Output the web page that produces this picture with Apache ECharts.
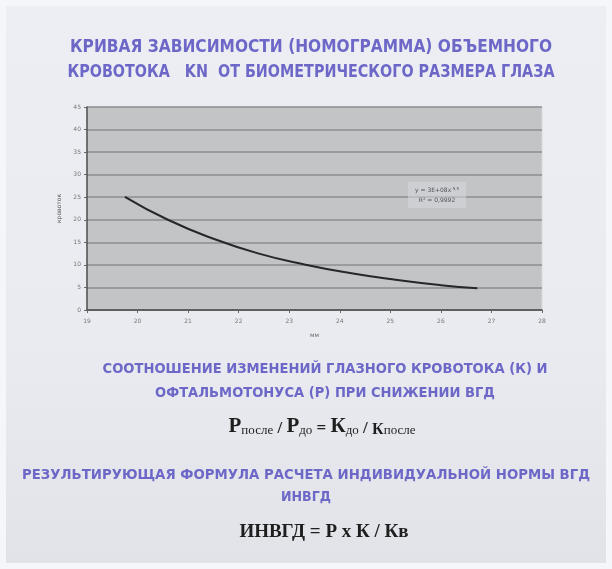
<!DOCTYPE html>
<html>
<head>
<meta charset="utf-8">
<script src="https://cdn.jsdelivr.net/npm/echarts@6/dist/echarts.min.js"></script>
<style>
  html, body { margin: 0; padding: 0; background: #f5f6f9; }
  #chart { width: 612px; height: 569px; }
</style>
</head>
<body>
<div id="chart"></div>
<script>
// Eye size (x) against volumetric blood flow Kn (y)
const eyeSize = [19.75, 20.6, 21.5, 22.4, 23.3, 24.2, 25.1, 26.0, 26.72];
const bloodFlow = [25.1, 20.0, 15.8, 12.5, 10.1, 8.2, 6.7, 5.5, 4.8];
const xTickValues = [19, 20, 21, 22, 23, 24, 25, 26, 27, 28];
const yTickValues = [0, 5, 10, 15, 20, 25, 30, 35, 40, 45];

const titleLines = [
  'КРИВАЯ ЗАВИСИМОСТИ (НОМОГРАММА) ОБЪЕМНОГО',
  'КРОВОТОКА   KN  ОТ БИОМЕТРИЧЕСКОГО РАЗМЕРА ГЛАЗА'
];
const ratioLines = [
  'СООТНОШЕНИЕ ИЗМЕНЕНИЙ ГЛАЗНОГО КРОВОТОКА (К) И',
  'ОФТАЛЬМОТОНУСА (Р) ПРИ СНИЖЕНИИ ВГД'
];
const normLines = [
  'РЕЗУЛЬТИРУЮЩАЯ ФОРМУЛА РАСЧЕТА ИНДИВИДУАЛЬНОЙ НОРМЫ ВГД',
  'ИНВГД'
];
const trendLines = ['y = 3E+08x', '-5,5', 'R² = 0,9992'];

const chart = echarts.init(document.getElementById('chart'), null, { renderer: 'canvas' });

// horizontal squeeze so a heading spans a given width
const ctx = document.createElement('canvas').getContext('2d');
function fitScale(text, font, width) {
  ctx.font = font;
  return width / ctx.measureText(text).width;
}

const headColor = '#6d68c8';

function heading(text, cx, cy, width, size) {
  const font = 'bold ' + size + 'px "DejaVu Sans"';
  const s = fitScale(text, font, width);
  return {
    type: 'text', x: cx, y: cy, scaleX: s, scaleY: 1,
    style: {
      text: text, x: 0, y: 0, align: 'center', verticalAlign: 'middle',
      font: font, fill: headColor
    }
  };
}

const xMin = xTickValues[0], xMax = xTickValues[xTickValues.length - 1];
const yMin = yTickValues[0], yMax = yTickValues[yTickValues.length - 1];

const option = {
  animation: false,
  backgroundColor: '#f5f6f9',
  grid: {
    left: 87, top: 107, width: 455, height: 203,
    show: true, backgroundColor: '#c3c4c5', borderColor: '#d9dadc', borderWidth: 1
  },
  xAxis: {
    type: 'value', min: xMin, max: xMax, interval: 1,
    name: 'мм', nameLocation: 'middle', nameGap: 22,
    nameTextStyle: { fontSize: 6, color: '#666', fontFamily: 'DejaVu Sans' },
    axisLine: { show: true, onZero: false, lineStyle: { color: '#4a4c4c', width: 1.5 } },
    axisTick: { show: true, length: 3, lineStyle: { color: '#666' } },
    axisLabel: { fontSize: 6, color: '#777', margin: 8, fontFamily: 'DejaVu Sans' },
    splitLine: { show: false }
  },
  yAxis: {
    type: 'value', min: yMin, max: yMax, interval: 5,
    name: 'кровоток', nameLocation: 'middle', nameGap: 18, nameRotate: 90,
    nameTextStyle: { fontSize: 6, color: '#555', fontFamily: 'DejaVu Sans' },
    axisLine: { show: true, lineStyle: { color: '#4a4c4c', width: 1.5 } },
    axisTick: { show: true, length: 3, lineStyle: { color: '#666' } },
    axisLabel: { fontSize: 6, color: '#777', margin: 6, fontFamily: 'DejaVu Sans' },
    splitLine: { show: true, lineStyle: { color: '#8b8e8e', width: 1.6 } }
  },
  series: [{
    type: 'line',
    data: eyeSize.map((x, i) => [x, bloodFlow[i]]),
    smooth: 0.5,
    showSymbol: false,
    lineStyle: { color: '#262727', width: 2 },
    z: 5
  }],
  graphic: [
    {
      type: 'rect', z: -10, silent: true,
      shape: { x: 6, y: 6, width: 600, height: 557 },
      style: {
        fill: {
          type: 'linear', x: 0, y: 0, x2: 0, y2: 1,
          colorStops: [
            { offset: 0, color: '#eceef3' },
            { offset: 0.6, color: '#e9ebf0' },
            { offset: 1, color: '#e1e3e8' }
          ]
        }
      }
    },
    heading(titleLines[0], 311, 48, 482, 17),
    heading(titleLines[1], 311, 73, 487, 17),
    heading(ratioLines[0], 325, 369, 445, 14),
    heading(ratioLines[1], 325, 393, 340, 14),
    heading(normLines[0], 306, 475, 568, 14),
    heading(normLines[1], 306, 497, 50, 14),
    {
      type: 'text', x: 322, y: 427,
      style: {
        text: '{b|Р}{s|после}{o| / }{b|Р}{s|до}{o| = }{b|К}{s|до}{o| / }{k|К}{s|после}',
        x: 0, y: 0, align: 'center', verticalAlign: 'middle',
        rich: {
          b: { font: 'bold 21px "Liberation Serif"', fill: '#1e1e1e', verticalAlign: 'bottom' },
          k: { font: 'bold 16px "Liberation Serif"', fill: '#1e1e1e', verticalAlign: 'bottom' },
          s: { font: '13px "Liberation Serif"', fill: '#1e1e1e', verticalAlign: 'bottom' },
          o: { font: 'bold 17px "Liberation Serif"', fill: '#1e1e1e', verticalAlign: 'bottom' }
        }
      }
    },
    {
      type: 'text', x: 324, y: 532,
      style: {
        text: 'ИНВГД = Р х К / Кв',
        x: 0, y: 0, align: 'center', verticalAlign: 'middle',
        font: 'bold 19px "Liberation Serif"', fill: '#1e1e1e'
      }
    },
    {
      type: 'rect', z: 3, silent: true,
      shape: { x: 408, y: 182, width: 58, height: 26 },
      style: { fill: 'rgba(214,216,222,0.55)' }
    },
    {
      type: 'text', z: 4, x: 437, y: 190,
      style: {
        text: trendLines[0] + '{sup|' + trendLines[1] + '}',
        x: 0, y: 0, align: 'center', verticalAlign: 'middle',
        font: '6px "DejaVu Sans"', fill: '#555',
        rich: { sup: { font: '4px "DejaVu Sans"', fill: '#555', verticalAlign: 'top' } }
      }
    },
    {
      type: 'text', z: 4, x: 437, y: 200,
      style: {
        text: trendLines[2], x: 0, y: 0, align: 'center', verticalAlign: 'middle',
        font: '6px "DejaVu Sans"', fill: '#555'
      }
    }
  ]
};

chart.setOption(option);
</script>
</body>
</html>
